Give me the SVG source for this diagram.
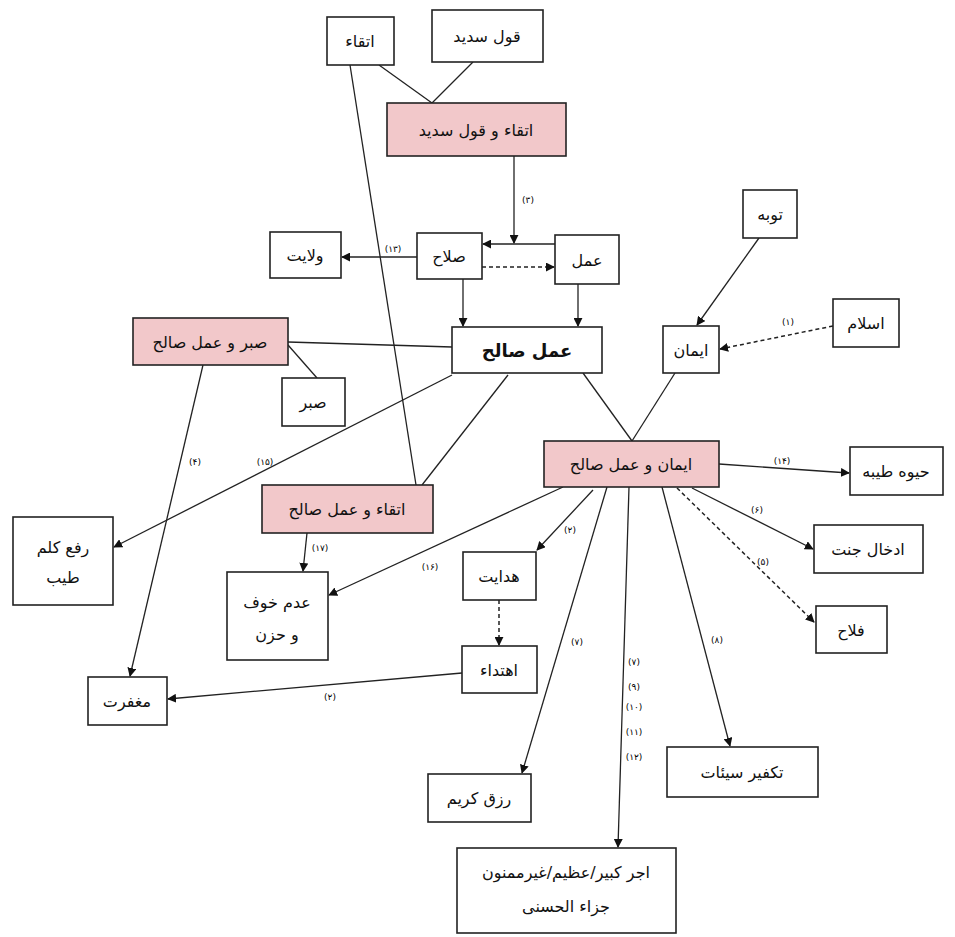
<svg xmlns="http://www.w3.org/2000/svg" width="955" height="937" viewBox="0 0 955 937">
<defs>
<marker id="ah" viewBox="0 0 10 10" refX="9" refY="5" markerWidth="9" markerHeight="9" markerUnits="userSpaceOnUse" orient="auto">
<path d="M0,0 L10,5 L0,10 z" fill="#111"/>
</marker>
</defs>
<style>
.box{fill:#fff;stroke:#222;stroke-width:1.6}
.pink{fill:#f2c8ca;stroke:#222;stroke-width:1.6}
.t{font-family:"DejaVu Sans",sans-serif;font-size:16px;fill:#111;text-anchor:middle;dominant-baseline:central}
.b{font-weight:bold;font-size:18px}
.lbl{font-family:"DejaVu Sans",sans-serif;font-size:9px;fill:#000;text-anchor:middle;dominant-baseline:central}
.ln{stroke:#222;stroke-width:1.3;fill:none}
.ar{stroke:#222;stroke-width:1.3;fill:none;marker-end:url(#ah)}
.dar{stroke:#222;stroke-width:1.5;fill:none;stroke-dasharray:4 3;marker-end:url(#ah)}
</style>
<rect width="955" height="937" fill="#fff"/>
<g id="connectors">
<line class="ln" x1="379" y1="65" x2="432" y2="103"/>
<line class="ln" x1="473" y1="62" x2="432" y2="103"/>
<line class="ar" x1="514" y1="156" x2="514" y2="243"/>
<line class="ar" x1="555" y1="244" x2="483" y2="244"/>
<line class="dar" x1="482" y1="267" x2="554" y2="267"/>
<line class="ar" x1="417" y1="257" x2="342" y2="257"/>
<line class="ln" x1="350" y1="65" x2="416" y2="485"/>
<line class="ar" x1="463" y1="279" x2="463" y2="326"/>
<line class="ar" x1="578" y1="284" x2="578" y2="326"/>
<line class="ar" x1="759" y1="238" x2="697" y2="325"/>
<line class="dar" x1="833" y1="326" x2="720" y2="349"/>
<line class="ln" x1="583" y1="373" x2="632" y2="441"/>
<line class="ln" x1="675" y1="373" x2="632" y2="441"/>
<line class="ln" x1="288" y1="342" x2="452" y2="347"/>
<line class="ln" x1="288" y1="345" x2="317" y2="378"/>
<line class="ar" x1="203" y1="365" x2="130" y2="676"/>
<line class="ar" x1="452" y1="375" x2="114" y2="547"/>
<line class="ln" x1="508" y1="375" x2="422" y2="485"/>
<line class="ar" x1="307" y1="533" x2="303" y2="571"/>
<line class="ar" x1="563" y1="487" x2="329" y2="595"/>
<line class="ar" x1="593" y1="490" x2="537" y2="550"/>
<line class="dar" x1="499" y1="600" x2="499" y2="645"/>
<line class="ar" x1="462" y1="673" x2="168" y2="699"/>
<line class="ar" x1="719" y1="464" x2="849" y2="473"/>
<line class="ar" x1="692" y1="488" x2="813" y2="549"/>
<line class="dar" x1="677" y1="488" x2="814" y2="622"/>
<line class="ar" x1="607" y1="487" x2="522" y2="773"/>
<line class="ar" x1="629" y1="487" x2="618" y2="847"/>
<line class="ar" x1="662" y1="487" x2="730" y2="746"/>
</g>
<g id="edge-labels">
<text class="lbl" x="528" y="200">(۳)</text>
<text class="lbl" x="393" y="249">(۱۳)</text>
<text class="lbl" x="788" y="322">(۱)</text>
<text class="lbl" x="195" y="462">(۴)</text>
<text class="lbl" x="265" y="462">(۱۵)</text>
<text class="lbl" x="320" y="548">(۱۷)</text>
<text class="lbl" x="430" y="567">(۱۶)</text>
<text class="lbl" x="570" y="530">(۲)</text>
<text class="lbl" x="330" y="697">(۲)</text>
<text class="lbl" x="782" y="461">(۱۴)</text>
<text class="lbl" x="757" y="510">(۶)</text>
<text class="lbl" x="763" y="562">(۵)</text>
<text class="lbl" x="577" y="642">(۷)</text>
<text class="lbl" x="717" y="640">(۸)</text>
<text class="lbl" x="634" y="662">(۷)</text>
<text class="lbl" x="634" y="687">(۹)</text>
<text class="lbl" x="634" y="707">(۱۰)</text>
<text class="lbl" x="634" y="732">(۱۱)</text>
<text class="lbl" x="634" y="757">(۱۲)</text>
</g>
<g id="n-ettegha"><rect class="box" x="327" y="17" width="67" height="48"/><text class="t" x="360" y="41">اتقاء</text></g>
<g id="n-ghol"><rect class="box" x="432" y="10" width="111" height="52"/><text class="t" x="487" y="36">قول سدید</text></g>
<g id="n-ettegha-ghol"><rect class="pink" x="387" y="103" width="179" height="53"/><text class="t" x="476" y="130">اتقاء و قول سدید</text></g>
<g id="n-velayat"><rect class="box" x="270" y="232" width="71" height="46"/><text class="t" x="305" y="255">ولایت</text></g>
<g id="n-salah"><rect class="box" x="417" y="233" width="65" height="46"/><text class="t" x="449" y="256">صلاح</text></g>
<g id="n-amal"><rect class="box" x="555" y="235" width="64" height="49"/><text class="t" x="587" y="260">عمل</text></g>
<g id="n-tobe"><rect class="box" x="743" y="190" width="54" height="48"/><text class="t" x="770" y="214">توبه</text></g>
<g id="n-eslam"><rect class="box" x="833" y="299" width="66" height="48"/><text class="t" x="866" y="323">اسلام</text></g>
<g id="n-iman"><rect class="box" x="663" y="326" width="56" height="47"/><text class="t" x="691" y="350">ایمان</text></g>
<g id="n-amal-saleh"><rect class="box" x="452" y="327" width="150" height="46"/><text class="t b" x="527" y="350">عمل صالح</text></g>
<g id="n-sabr-amal"><rect class="pink" x="133" y="318" width="155" height="47"/><text class="t" x="210" y="342">صبر و عمل صالح</text></g>
<g id="n-sabr"><rect class="box" x="282" y="378" width="63" height="48"/><text class="t" x="313" y="402">صبر</text></g>
<g id="n-iman-amal"><rect class="pink" x="544" y="441" width="175" height="46"/><text class="t" x="631" y="464">ایمان و عمل صالح</text></g>
<g id="n-hayat"><rect class="box" x="850" y="447" width="93" height="48"/><text class="t" x="896" y="471">حیوه طیبه</text></g>
<g id="n-ettegha-amal"><rect class="pink" x="262" y="485" width="171" height="48"/><text class="t" x="347" y="509">اتقاء و عمل صالح</text></g>
<g id="n-raf"><rect class="box" x="13" y="517" width="100" height="88"/><text class="t" x="63" y="547">رفع کلم</text><text class="t" x="63" y="577">طیب</text></g>
<g id="n-adam"><rect class="box" x="227" y="572" width="101" height="88"/><text class="t" x="277" y="602">عدم خوف</text><text class="t" x="277" y="634">و حزن</text></g>
<g id="n-hedayat"><rect class="box" x="463" y="552" width="73" height="48"/><text class="t" x="499" y="576">هدایت</text></g>
<g id="n-edkhal"><rect class="box" x="814" y="525" width="109" height="48"/><text class="t" x="868" y="549">ادخال جنت</text></g>
<g id="n-falah"><rect class="box" x="816" y="606" width="71" height="47"/><text class="t" x="851" y="630">فلاح</text></g>
<g id="n-ehteda"><rect class="box" x="462" y="646" width="75" height="47"/><text class="t" x="499" y="670">اهتداء</text></g>
<g id="n-maghferat"><rect class="box" x="88" y="677" width="79" height="48"/><text class="t" x="127" y="701">مغفرت</text></g>
<g id="n-takfir"><rect class="box" x="667" y="747" width="151" height="50"/><text class="t" x="742" y="772">تکفیر سیئات</text></g>
<g id="n-rezgh"><rect class="box" x="428" y="774" width="103" height="48"/><text class="t" x="479" y="798">رزق کریم</text></g>
<g id="n-ajr"><rect class="box" x="457" y="848" width="219" height="85"/><text class="t" x="566" y="872">اجر کبیر/عظیم/غیرممنون</text><text class="t" x="566" y="906">جزاء الحسنی</text></g>
</svg>
